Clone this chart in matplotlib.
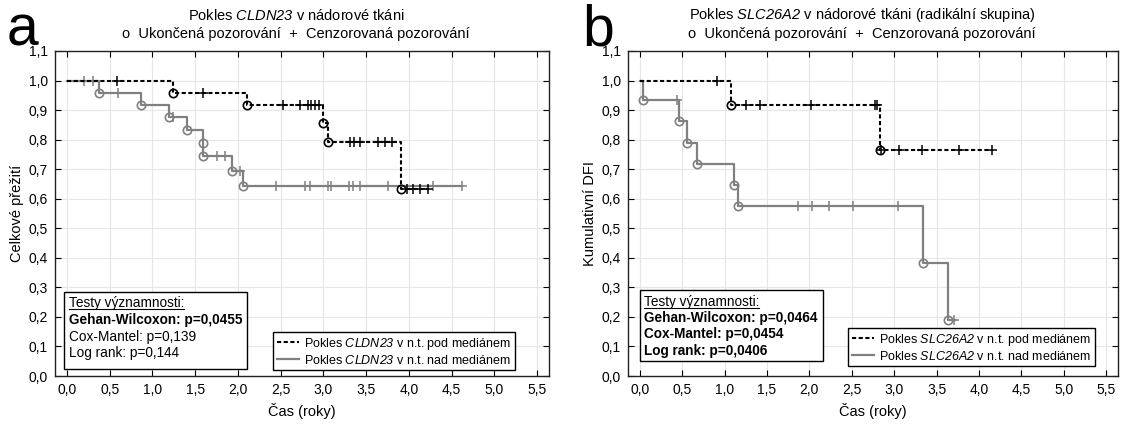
import numpy as np
import matplotlib
matplotlib.use("Agg")
import matplotlib.pyplot as plt
from matplotlib.patches import Rectangle
from matplotlib.lines import Line2D

plt.rcParams['font.family'] = ['Liberation Sans', 'DejaVu Sans']
plt.rcParams['mathtext.fontset'] = 'custom'
plt.rcParams['mathtext.rm'] = 'Liberation Sans'
plt.rcParams['mathtext.it'] = 'Liberation Sans:italic'
plt.rcParams['mathtext.sf'] = 'Liberation Sans:italic'
plt.rcParams['mathtext.bf'] = 'Liberation Sans:bold'

# ---------------- data ----------------
x_ticks = [0.0, 0.5, 1.0, 1.5, 2.0, 2.5, 3.0, 3.5, 4.0, 4.5, 5.0, 5.5]
x_tick_labels = ["0,0", "0,5", "1,0", "1,5", "2,0", "2,5", "3,0", "3,5", "4,0", "4,5", "5,0", "5,5"]
y_ticks = [0.0, 0.1, 0.2, 0.3, 0.4, 0.5, 0.6, 0.7, 0.8, 0.9, 1.0, 1.1]
y_tick_labels = ["0,0", "0,1", "0,2", "0,3", "0,4", "0,5", "0,6", "0,7", "0,8", "0,9", "1,0", "1,1"]

# Panel a - CLDN23
a_low_events = [1.24, 2.11, 3.00, 3.05, 3.91]
a_low_surv = [0.958, 0.917, 0.857, 0.792, 0.634]
a_low_censor = [0.59, 1.59, 2.53, 2.73, 2.82, 2.86, 2.90, 2.95, 3.31, 3.36, 3.43,
                3.64, 3.72, 3.80, 3.98, 4.05, 4.13, 4.22]
a_low_end = 4.22

a_high_events = [0.37, 0.87, 1.19, 1.41, 1.59, 1.59, 1.93, 2.06]
a_high_surv = [0.958, 0.917, 0.875, 0.833, 0.790, 0.745, 0.695, 0.642]
a_high_censor = [0.20, 0.31, 0.60, 1.24, 1.76, 1.85, 2.03, 2.45, 2.79, 2.84, 3.05,
                 3.09, 3.30, 3.35, 3.43, 3.76, 4.28, 4.62]
a_high_end = 4.62

# Panel b - SLC26A2
b_low_events = [1.08, 2.83]
b_low_surv = [0.917, 0.764]
b_low_censor = [0.91, 1.25, 1.42, 2.02, 2.77, 2.80, 2.84, 3.06, 3.33, 3.76, 4.15]
b_low_end = 4.15

b_high_events = [0.04, 0.46, 0.56, 0.67, 1.11, 1.16, 3.34, 3.63]
b_high_surv = [0.933, 0.862, 0.790, 0.718, 0.646, 0.574, 0.383, 0.191]
b_high_censor = [0.44, 1.87, 2.03, 2.23, 2.51, 3.04, 3.70]
b_high_end = 3.72

gene_a = "CLDN23"
gene_b = "SLC26A2"
tests_a = ["Gehan-Wilcoxon: p=0,0455", "Cox-Mantel: p=0,139", "Log rank: p=0,144"]
tests_a_bold = [True, False, False]
tests_b = ["Gehan-Wilcoxon: p=0,0464", "Cox-Mantel: p=0,0454", "Log rank: p=0,0406"]
tests_b_bold = [True, True, True]

# ---------------- figure ----------------
W, H = 1125, 424
fig = plt.figure(figsize=(W / 100, H / 100), dpi=100)
GRAY = '#808080'
DASH = (2.0, 1.2)


def fx(px):
    return px / W


def fy(py):
    return 1 - py / H


def surv_at(t, events, surv):
    s = 1.0
    for e, v in zip(events, surv):
        if e <= t + 1e-9:
            s = v
    return s


def draw_curve(ax, events, surv, censor, end, color, ls, z):
    xs = [0.0] + list(events) + [end]
    ys = [1.0] + list(surv) + [surv[-1]]
    if ls == '--':
        ax.step(xs, ys, where='post', color=color, ls='--', dashes=DASH, lw=1.5, zorder=z)
    else:
        ax.step(xs, ys, where='post', color=color, ls='-', lw=1.6, zorder=z)
    ax.plot(events, surv, ls='none', marker='o', ms=6, mfc='none', mec=color,
            mew=1.2, zorder=z + 0.1)
    cy = [surv_at(t, events, surv) for t in censor]
    ax.plot(censor, cy, ls='none', marker='+', ms=7, mec=color, mew=1.1,
            zorder=z + 0.1)


def setup_axes(left_px, right_px, ylabel):
    bottom, top = 376, 51
    ax = fig.add_axes([fx(left_px), fy(bottom), (right_px - left_px) / W, (bottom - top) / H])
    ax.set_xlim(-0.14, 5.64)
    ax.set_ylim(0, 1.1)
    ax.set_xticks(x_ticks)
    ax.set_xticklabels(x_tick_labels)
    ax.set_yticks(y_ticks)
    ax.set_yticklabels(y_tick_labels)
    ax.tick_params(direction='in', top=True, right=True, length=4, width=0.8,
                   labelsize=10, colors='black', pad=5)
    ax.grid(True, color='#e6e6e6', lw=0.8, zorder=0)
    ax.set_axisbelow(True)
    for s in ax.spines.values():
        s.set_color('#222222')
        s.set_linewidth(1.0)
    ax.set_xlabel("Čas (roky)", fontsize=10.5, va='center')
    ax.xaxis.set_label_coords(0.5, -(411 - bottom) / (bottom - top))
    ax.set_ylabel(ylabel, fontsize=10.5, va='center')
    ax.yaxis.set_label_coords(-38 / (right_px - left_px), 0.5)
    return ax


def text_box(ax, box, lines, bolds, line_ys, text_x):
    x0, y0, x1, y1 = box
    ax.add_patch(Rectangle((fx(x0), fy(y1)), fx(x1) - fx(x0), fy(y0) - fy(y1),
                           transform=fig.transFigure, facecolor='white',
                           edgecolor='black', lw=1.0, zorder=10, clip_on=False))
    t0 = ax.text(fx(text_x), fy(line_ys[0]), "Testy významnosti:", transform=fig.transFigure,
                 fontsize=9.8, va='center', ha='left', zorder=11)
    for ln, b, yy in zip(lines, bolds, line_ys[1:]):
        ax.text(fx(text_x), fy(yy), ln, transform=fig.transFigure, fontsize=9.8,
                fontweight='bold' if b else 'normal', va='center', ha='left', zorder=11)
    return t0


def legend(ax, gene, anchor):
    h1 = Line2D([], [], color='black', ls='--', lw=1.5, dashes=DASH)
    h2 = Line2D([], [], color=GRAY, lw=1.6)
    leg = ax.legend([h1, h2],
                    [f"Pokles $\\mathsf{{{gene}}}$ v n.t. pod mediánem",
                     f"Pokles $\\mathsf{{{gene}}}$ v n.t. nad mediánem"],
                    loc='upper left', bbox_to_anchor=(fx(anchor[0]), fy(anchor[1])),
                    bbox_transform=fig.transFigure, fontsize=9.0, frameon=True,
                    fancybox=False, edgecolor='black', framealpha=1,
                    handlelength=1.8, handletextpad=0.4, borderpad=0.3,
                    labelspacing=0.15, borderaxespad=0)
    leg.get_frame().set_linewidth(1.0)
    leg.set_zorder(12)


# Panel a
ax1 = setup_axes(55, 549, "Celkové přežití")
draw_curve(ax1, a_high_events, a_high_surv, a_high_censor, a_high_end, GRAY, '-', 3)
draw_curve(ax1, a_low_events, a_low_surv, a_low_censor, a_low_end, 'black', '--', 4)
ta = text_box(ax1, (64, 292, 247, 369), tests_a, tests_a_bold, [303, 320, 337, 353], 69)
legend(ax1, gene_a, (273, 332))

# Panel b
ax2 = setup_axes(628, 1118, "Kumulativní DFI")
draw_curve(ax2, b_high_events, b_high_surv, b_high_censor, b_high_end, GRAY, '-', 3)
draw_curve(ax2, b_low_events, b_low_surv, b_low_censor, b_low_end, 'black', '--', 4)
tb = text_box(ax2, (640, 290, 823, 361), tests_b, tests_b_bold, [302, 318, 334, 351], 644)
legend(ax2, gene_b, (848, 328))

# Titles
fig.text(fx(296), fy(15), f"Pokles $\\mathsf{{{gene_a}}}$ v nádorové tkáni", ha='center',
         va='center', fontsize=10.5)
fig.text(fx(296), fy(34), "o  Ukončená pozorování  +  Cenzorovaná pozorování", ha='center',
         va='center', fontsize=10.5)
fig.text(fx(862), fy(15), f"Pokles $\\mathsf{{{gene_b}}}$ v nádorové tkáni (radikální skupina)",
         ha='center', va='center', fontsize=10.5)
fig.text(fx(862), fy(34), "o  Ukončená pozorování  +  Cenzorovaná pozorování", ha='center',
         va='center', fontsize=10.5)

# Panel letters
fig.text(fx(7), fy(45), "a", fontsize=41, ha='left', va='baseline')
fig.text(fx(582), fy(45), "b", fontsize=41, ha='left', va='baseline')

# Underline for "Testy významnosti:"
fig.canvas.draw()
r = fig.canvas.get_renderer()
for t in (ta, tb):
    bb = t.get_window_extent(renderer=r)
    yline = bb.y0 + 1
    fig.add_artist(Line2D([bb.x0 / W, bb.x1 / W], [yline / H, yline / H],
                          transform=fig.transFigure, color='black', lw=0.8, zorder=13))

fig.savefig("out.png", dpi=100)
